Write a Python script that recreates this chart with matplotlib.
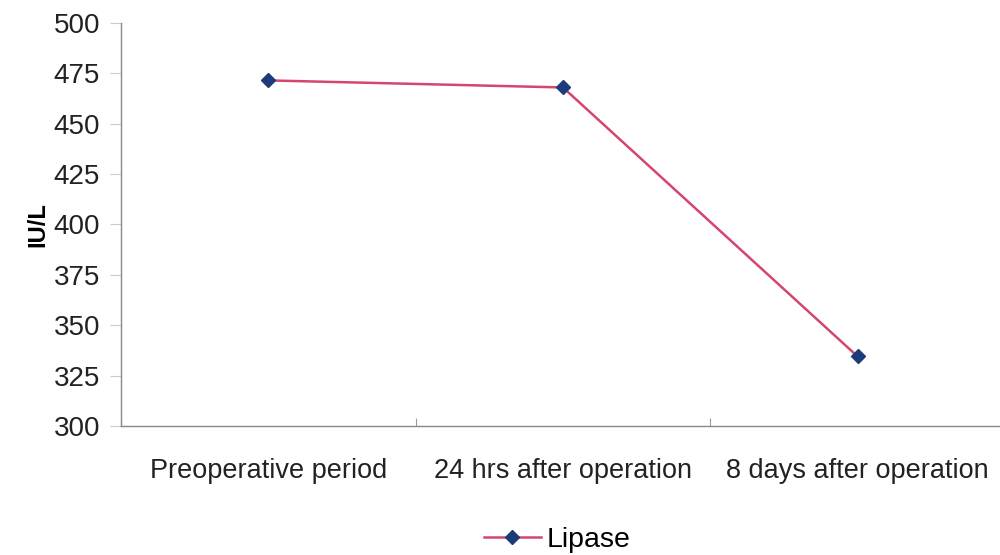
import matplotlib
matplotlib.use("Agg")
import matplotlib.pyplot as plt

categories = ["Preoperative period", "24 hrs after operation", "8 days after operation"]
lipase = [471.5, 468.0, 334.5]
yticks = [300, 325, 350, 375, 400, 425, 450, 475, 500]

plt.rcParams["font.family"] = ["Liberation Sans", "DejaVu Sans"]

fig = plt.figure(figsize=(10, 5.55), dpi=100)
ax = fig.add_axes([0.121, 0.2324, 0.884, 0.7262])

x = list(range(len(categories)))
ax.plot(x, lipase, color="#d4466e", lw=1.8, marker="D", markersize=7.5,
        markerfacecolor="#1b3c78", markeredgecolor="#1b3c78", label="Lipase", zorder=3)

ax.set_xlim(-0.5, len(categories) - 0.5)
ax.set_ylim(300, 500)
ax.set_yticks(yticks)
ax.set_yticklabels([str(v) for v in yticks], fontsize=20, color="#222222")
ax.set_xticks([i + 0.5 for i in range(-1, len(categories))])
ax.set_xticklabels([])
ax.set_xticks(x, minor=True)
ax.set_xticklabels(categories, minor=True, fontsize=19.5, color="#222222")
ax.tick_params(axis="x", which="minor", length=0, pad=23)
ax.tick_params(axis="x", which="major", length=6, direction="in", color="#999999")
ax.tick_params(axis="y", length=8, color="#cccccc", pad=7)

for side in ("top", "right"):
    ax.spines[side].set_visible(False)
for side in ("left", "bottom"):
    ax.spines[side].set_color("#888888")
    ax.spines[side].set_linewidth(1.0)

ax.set_ylabel("IU/L", fontsize=17, fontweight="bold", labelpad=3)

fig.legend(loc="center", bbox_to_anchor=(0.557, 0.027), frameon=False, fontsize=20.5,
           handlelength=2.0, handletextpad=0.2)

fig.savefig("out.png", dpi=100, facecolor="white")
